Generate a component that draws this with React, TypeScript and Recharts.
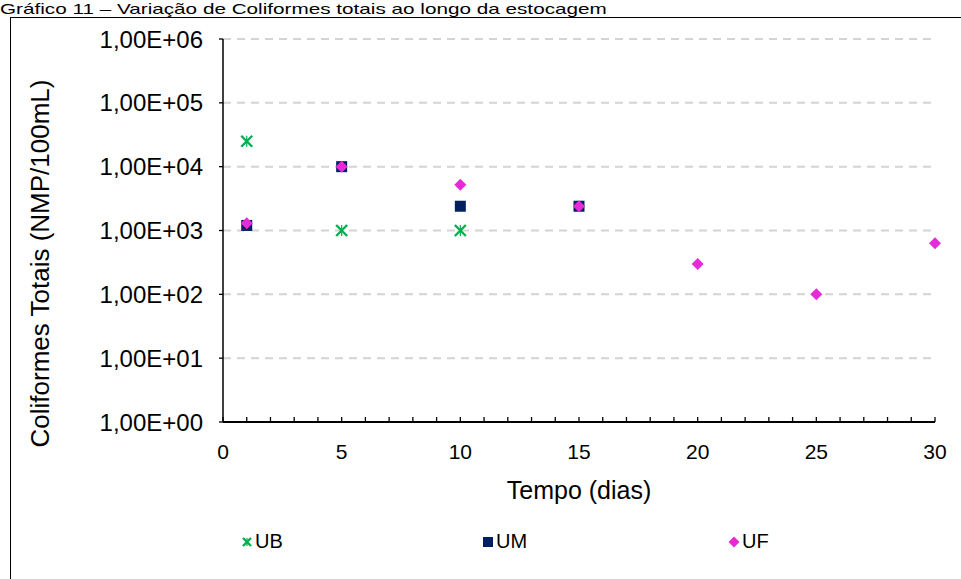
import { ScatterChart, Scatter, XAxis, YAxis, CartesianGrid, Legend } from 'recharts'

// Coliformes totais (NMP/100mL) por dia de estocagem
const ubDias = [1, 5, 10]
const ubValores = [25000, 1000, 1000]

const umDias = [1, 5, 10, 15]
const umValores = [1200, 10000, 2400, 2400]

const ufDias = [1, 5, 10, 15, 20, 25, 30]
const ufValores = [1300, 10000, 5200, 2400, 300, 100, 630]

const diasTicks = Array.from({ length: 31 }, (_, i) => i)
const diasLabels = [0, 5, 10, 15, 20, 25, 30]
const logTicks = [1, 10, 100, 1000, 10000, 100000, 1000000]

const FONT = '"Liberation Sans", Arial, sans-serif'
const VERDE = '#00b050'
const AZUL = '#002060'
const ROSA = '#e62ad6'

const toPoints = (dias: number[], valores: number[]) =>
  dias.map((d, i) => ({ dia: d, valor: valores[i] }))

const formatExp = (v: number) => {
  const e = Math.round(Math.log10(v))
  return `1,00E+${String(e).padStart(2, '0')}`
}

// marcadores no estilo do Excel: asterisco, quadrado e losango
const Cruz = ({ cx, cy, r = 5.5 }: any) => (
  <g stroke={VERDE} strokeWidth={2.4}>
    <line x1={cx - r} y1={cy - r} x2={cx + r} y2={cy + r} />
    <line x1={cx - r} y1={cy + r} x2={cx + r} y2={cy - r} />
    <line x1={cx} y1={cy - r} x2={cx} y2={cy + r} strokeWidth={1.2} />
  </g>
)

const Quadrado = ({ cx, cy, r = 5.5 }: any) => (
  <rect x={cx - r} y={cy - r} width={r * 2} height={r * 2} fill={AZUL} />
)

const Losango = ({ cx, cy, r = 6 }: any) => (
  <polygon points={`${cx},${cy - r} ${cx + r},${cy} ${cx},${cy + r} ${cx - r},${cy}`} fill={ROSA} />
)

// ticks internos a cada dia, rótulo só nos múltiplos de 5
const XTick = ({ x, y, payload }: any) => {
  const eixo = y - 22
  return (
    <g>
      <line x1={x} y1={eixo - 5} x2={x} y2={eixo} stroke="#000" strokeWidth={1.3} />
      {diasLabels.includes(payload.value) && (
        <text x={x} y={y} dy="0.71em" textAnchor="middle" fontSize={21} fontFamily={FONT} fill="#000">
          {payload.value}
        </text>
      )}
    </g>
  )
}

const YLabel = ({ viewBox }: any) => {
  const cx = viewBox.x + 30
  const cy = viewBox.y + viewBox.height / 2 + 33
  return (
    <text
      x={cx}
      y={cy}
      transform={`rotate(-90, ${cx}, ${cy})`}
      textAnchor="middle"
      dominantBaseline="central"
      fontSize={26}
      fontFamily={FONT}
      fill="#000"
    >
      Coliformes Totais (NMP/100mL)
    </text>
  )
}

const legendItems = [
  { nome: 'UB', Shape: Cruz, left: 241, r: 4 },
  { nome: 'UM', Shape: Quadrado, left: 482, r: 5 },
  { nome: 'UF', Shape: Losango, left: 728, r: 5.5 },
]

const Legenda = () => (
  <div style={{ position: 'relative', height: 30 }}>
    {legendItems.map(({ nome, Shape, left, r }) => (
      <div key={nome} style={{ position: 'absolute', left, top: 0, display: 'flex', alignItems: 'center' }}>
        <svg width={12} height={14}>
          <Shape cx={6} cy={7} r={r} />
        </svg>
        <span style={{ fontFamily: FONT, fontSize: 20, color: '#000', marginLeft: 2 }}>{nome}</span>
      </div>
    ))}
  </div>
)

export default function App() {
  return (
    <div style={{ position: 'absolute', left: 0, top: 0, width: 961, height: 579, overflow: 'hidden', background: '#fff' }}>
      <div
        style={{
          position: 'absolute',
          left: 0,
          top: 0,
          fontFamily: FONT,
          fontSize: 15,
          lineHeight: '17px',
          whiteSpace: 'nowrap',
          transform: 'scaleX(1.38)',
          transformOrigin: 'left top',
        }}
      >
        Gráfico 11 – Variação de Coliformes totais ao longo da estocagem
      </div>
      <div style={{ position: 'absolute', left: 10, top: 17, width: 1000, height: 600, border: '1.5px solid #000' }} />
      <div style={{ position: 'absolute', left: 0, top: 0 }}>
        <ScatterChart width={961} height={579} margin={{ top: 39, right: 26, bottom: 97, left: 10 }}>
          <CartesianGrid horizontal vertical={false} stroke="#d4d4d4" strokeWidth={2} strokeDasharray="8 6" />
          <XAxis
            type="number"
            dataKey="dia"
            domain={[0, 30]}
            ticks={diasTicks}
            interval={0}
            tickSize={0}
            tickMargin={22}
            tick={<XTick />}
            axisLine={{ stroke: '#000', strokeWidth: 2 }}
            height={30}
            label={{ value: 'Tempo (dias)', position: 'insideBottom', offset: -47, fontSize: 25, fontFamily: FONT, fill: '#000' }}
          />
          <YAxis
            type="number"
            dataKey="valor"
            scale="log"
            domain={[1, 1000000]}
            ticks={logTicks}
            interval={0}
            tickFormatter={formatExp}
            tickSize={4}
            tickMargin={16}
            width={213}
            tick={{ fontSize: 24, fontFamily: FONT, fill: '#000' }}
            tickLine={{ stroke: '#000', strokeWidth: 1.3 }}
            axisLine={{ stroke: '#000', strokeWidth: 1.5 }}
            label={<YLabel />}
          />
          <Legend content={<Legenda />} wrapperStyle={{ top: 530, left: 0, width: 961 }} />
          <Scatter name="UB" data={toPoints(ubDias, ubValores)} shape={<Cruz />} isAnimationActive={false} />
          <Scatter name="UM" data={toPoints(umDias, umValores)} shape={<Quadrado />} isAnimationActive={false} />
          <Scatter name="UF" data={toPoints(ufDias, ufValores)} shape={<Losango />} isAnimationActive={false} />
        </ScatterChart>
      </div>
    </div>
  )
}
